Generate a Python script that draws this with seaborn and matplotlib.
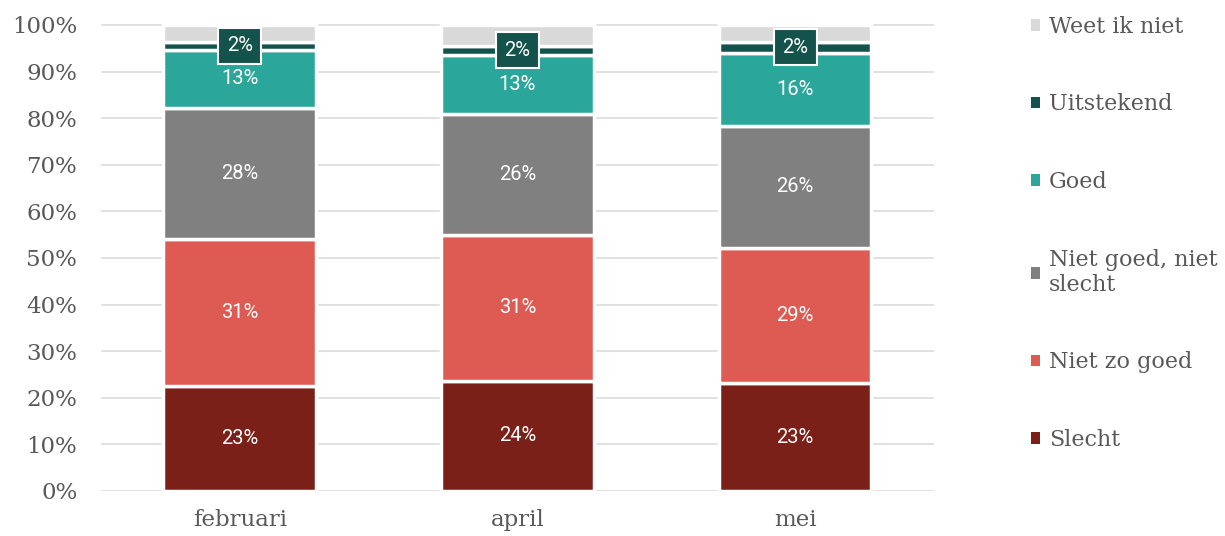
import pandas as pd
import seaborn as sns
import matplotlib.pyplot as plt
from matplotlib.patches import Patch

months = ["februari", "april", "mei"]
answers = ["Slecht", "Niet zo goed", "Niet goed, niet slecht", "Goed", "Uitstekend", "Weet ik niet"]
slecht = [22.6, 23.7, 23.1]
niet_zo_goed = [31.4, 31.2, 29.0]
neutraal = [28.1, 25.9, 26.3]
goed = [12.6, 12.8, 15.6]
uitstekend = [1.7, 1.9, 2.4]
weet_niet = [3.6, 4.5, 3.6]
legend_labels = ["Slecht", "Niet zo goed", "Niet goed, niet\nslecht", "Goed", "Uitstekend", "Weet ik niet"]

colors = ["#7B2018", "#DD5B52", "#808080", "#2BA69A", "#14534B", "#D9D9D9"]
serif = "DejaVu Serif"
grey = "#595959"

rows = []
for name, vals in zip(answers, [slecht, niet_zo_goed, neutraal, goed, uitstekend, weet_niet]):
    for m, v in zip(months, vals):
        rows.append({"maand": m, "antwoord": name, "pct": v})
df = pd.DataFrame(rows)
df["maand"] = pd.Categorical(df["maand"], categories=months, ordered=True)

sns.set_style("white")
fig = plt.figure(figsize=(12.25, 5.36), dpi=100)
ax = fig.add_axes([0.0824, 0.084, 0.68, 0.873])

sns.histplot(
    data=df, x="maand", hue="antwoord", weights="pct",
    hue_order=answers[::-1], palette=dict(zip(answers, colors)),
    multiple="stack", discrete=True, shrink=0.55,
    edgecolor="white", linewidth=2.5, alpha=1, ax=ax, legend=False,
)

ax.set_xlim(-0.5, 2.5)
ax.set_ylim(0, 100.4)
ax.set_yticks(range(0, 101, 10))
ax.set_yticklabels([f"{t}%" for t in range(0, 101, 10)])
ax.set_xticks(range(3))
ax.set_xticklabels(months)
ax.set_xlabel("")
ax.set_ylabel("")
ax.grid(axis="y", color="#D9D9D9", linewidth=1.1)
ax.grid(axis="x", visible=False)
ax.set_axisbelow(True)
for s in ax.spines.values():
    s.set_visible(False)
ax.tick_params(axis="both", length=0, labelsize=16.5, labelcolor=grey)
ax.tick_params(axis="y", pad=17)
ax.tick_params(axis="x", pad=13)
for lab in ax.get_xticklabels() + ax.get_yticklabels():
    lab.set_family(serif)

# data labels
lookup = {name: vals for name, vals in zip(answers, [slecht, niet_zo_goed, neutraal, goed, uitstekend, weet_niet])}
for cont in ax.containers:
    # identify the series by the colour of its bars
    fc = cont.patches[0].get_facecolor()
    idx = min(range(6), key=lambda i: sum(abs(a - b) for a, b in zip(fc[:3], plt.matplotlib.colors.to_rgb(colors[i]))))
    name = answers[idx]
    if name == "Weet ik niet":
        continue
    labels = [f"{round(v):.0f}%" for v in lookup[name]]
    if name == "Uitstekend":
        ax.bar_label(cont, labels=labels, label_type="center", color="white",
                     fontsize=14.5, family="Roboto",
                     bbox=dict(boxstyle="square,pad=0.42", fc=colors[4], ec="white", lw=1.5))
    else:
        ax.bar_label(cont, labels=labels, label_type="center", color="white",
                     fontsize=14.5, family="Roboto")

handles = [Patch(facecolor=c, edgecolor="none") for c in colors]
leg = fig.legend(
    handles[::-1], legend_labels[::-1], loc="upper left",
    bbox_to_anchor=(0.834, 0.987), frameon=False,
    prop={"family": serif, "size": 16},
    handlelength=0.42, handleheight=0.42, handletextpad=0.4,
    labelspacing=2.5, borderaxespad=0,
)
for t in leg.get_texts():
    t.set_color(grey)

fig.savefig("out.png", dpi=100)
